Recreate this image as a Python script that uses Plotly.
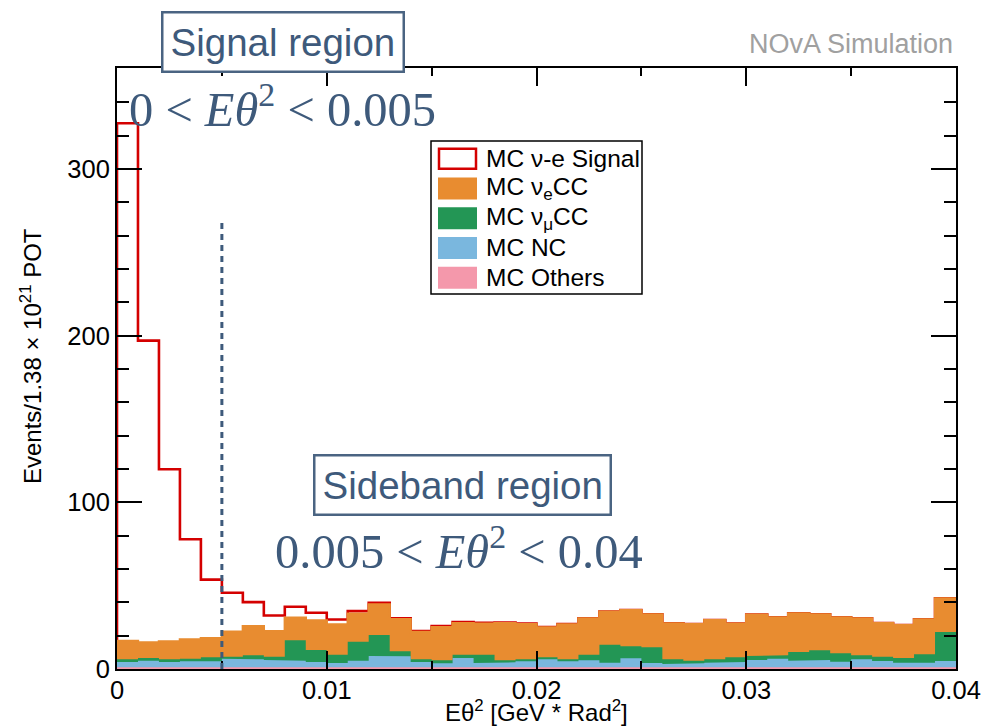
import numpy as np
import plotly.graph_objects as go

# Binning: 40 bins of E*theta^2 from 0 to 0.04 GeV*rad^2
bin_edges = np.linspace(0.0, 0.04, 41)

# Per-bin predicted event counts for each MC component (stacked bottom -> top)
others = [1.0, 1.0, 1.0, 1.0, 1.0, 1.0, 1.0, 1.0, 1.0, 1.0,
          1.0, 1.0, 1.0, 1.0, 1.0, 1.0, 1.0, 1.0, 1.0, 1.0,
          1.0, 1.0, 1.0, 1.0, 1.0, 1.0, 1.0, 1.0, 1.0, 1.0,
          1.0, 1.0, 1.0, 1.0, 1.0, 1.0, 1.0, 1.0, 1.0, 1.0]
nc = [3.2, 4.0, 3.2, 3.6, 3.6, 5.2, 4.8, 4.4, 4.0, 3.2,
      2.6, 4.0, 6.8, 6.6, 3.2, 2.4, 5.6, 2.6, 3.0, 3.6,
      4.8, 3.6, 4.2, 2.8, 5.4, 2.6, 2.0, 2.4, 2.8, 3.2,
      4.4, 5.2, 4.0, 4.4, 3.4, 4.8, 3.8, 2.8, 2.8, 3.8]
numu_cc = [1.6, 1.6, 1.6, 1.6, 2.4, 1.2, 2.4, 2.0, 12.2, 7.2,
           5.0, 11.4, 12.6, 3.0, 1.6, 1.8, 2.0, 5.0, 1.2, 1.2,
           1.2, 1.2, 3.4, 10.8, 7.2, 9.4, 2.8, 1.5, 2.0, 2.8,
           2.4, 2.0, 5.2, 5.8, 5.0, 2.4, 2.6, 2.8, 5.0, 17.4]
nue_cc = [11.0, 9.4, 10.8, 11.6, 11.4, 15.0, 17.5, 15.2, 13.5, 17.7,
          18.1, 16.7, 18.3, 19.2, 16.4, 19.9, 18.9, 18.5, 22.3, 21.1,
          17.9, 20.9, 21.7, 19.7, 21.7, 19.7, 21.5, 22.0, 23.5, 20.1,
          24.7, 22.7, 23.1, 21.5, 21.5, 22.1, 20.1, 19.7, 20.9, 20.1]
nu_e_signal = [310.6, 181.0, 103.2, 60.0, 35.2, 23.3, 14.4, 9.5, 6.6, 4.6,
               3.0, 1.6, 1.0, 0.6, 0.6, 0.6, 0.6, 0.6, 0.4, 0.4,
               0.3, 0.2, 0.1, 0.1, 0.1, 0.1, 0.1, 0.1, 0.1, 0.1,
               0.1, 0.1, 0.1, 0.1, 0.1, 0.1, 0.1, 0.1, 0.1, 0.1]

signal_cut = 0.005      # upper edge of the signal region
cut_line_top = 268      # height of the dashed cut marker

x_tick_vals = [0, 0.01, 0.02, 0.03, 0.04]
x_tick_text = ["0", "0.01", "0.02", "0.03", "0.04"]
y_tick_vals = [0, 100, 200, 300]

# Colours
C_ORANGE = "#e88c30"
C_GREEN = "#239655"
C_BLUE = "#7ab7de"
C_PINK = "#f498ab"
C_RED = "#d40000"
C_SLATE = "#3e5a7b"

W, H = 998, 726
ML, MR, MT, MB = 117, 42, 68, 57
PW, PH = W - ML - MR, H - MT - MB


def px(x):
    return (x - ML) / PW


def py(y):
    return (H - MB - y) / PH


def step(vals):
    """Histogram outline (x, y) for per-bin values, closed down to zero."""
    xs = np.repeat(bin_edges, 2)
    ys = np.concatenate([[0], np.repeat(np.asarray(vals, float), 2), [0]])
    return xs, ys


# Cumulative stack levels
lvl_others = np.array(others)
lvl_nc = lvl_others + np.array(nc)
lvl_numu = lvl_nc + np.array(numu_cc)
lvl_nue = lvl_numu + np.array(nue_cc)
lvl_total = lvl_nue + np.array(nu_e_signal)

fig = go.Figure()

# Signal outline first, so the background stack is painted over it
sx, sy = step(lvl_total)
fig.add_trace(go.Scatter(x=sx, y=sy, mode="lines",
                         line=dict(color=C_RED, width=2.6),
                         showlegend=False, hoverinfo="skip"))

# Background stack, drawn from the top level down
for lvl, col, lw in [(lvl_nue, C_ORANGE, 2.4),
                     (lvl_numu, C_GREEN, 0),
                     (lvl_nc, C_BLUE, 0),
                     (lvl_others, C_PINK, 0)]:
    bx, by = step(lvl)
    fig.add_trace(go.Scatter(x=bx, y=by, mode="lines", fill="tozeroy",
                             fillcolor=col, line=dict(color=col, width=lw),
                             showlegend=False, hoverinfo="skip"))

# Dashed cut marker
fig.add_shape(type="line", xref="x", yref="y", x0=signal_cut, x1=signal_cut,
              y0=0, y1=cut_line_top, layer="above",
              line=dict(color=C_SLATE, width=3, dash="6px,5px"))

axis_common = dict(showgrid=False, zeroline=False, showline=True,
                   linecolor="black", linewidth=2, mirror="ticks",
                   ticks="inside", tickcolor="black", tickwidth=1.5,
                   tickfont=dict(family="Liberation Sans", size=25.5, color="black"))

fig.update_layout(
    width=W, height=H, autosize=False,
    margin=dict(l=ML, r=MR, t=MT, b=MB, pad=0),
    paper_bgcolor="white", plot_bgcolor="white",
    xaxis=dict(range=[0, 0.04], tickvals=x_tick_vals, ticktext=x_tick_text,
               ticklen=18, ticklabelstandoff=-3,
               minor=dict(dtick=0.005, ticklen=8, ticks="inside",
                          tickcolor="black", tickwidth=1.5),
               **axis_common),
    yaxis=dict(range=[0, 360.5], tickvals=y_tick_vals, ticklen=25,
               minor=dict(dtick=20, ticklen=12, ticks="inside",
                          tickcolor="black", tickwidth=1.5),
               **axis_common),
)

annotations = []
# Axis titles
annotations.append(dict(text="Eθ<sup>2</sup> [GeV * Rad<sup>2</sup>]",
                        x=px(536), y=py(711), xref="paper", yref="paper",
                        xanchor="center", yanchor="middle", showarrow=False,
                        font=dict(family="Liberation Sans", size=24, color="black")))
annotations.append(dict(text="Events/1.38 × 10<sup>21</sup> POT",
                        x=px(31), y=py(356), xref="paper", yref="paper",
                        xanchor="center", yanchor="middle", showarrow=False,
                        textangle=-90,
                        font=dict(family="Liberation Sans", size=24, color="black")))
# Simulation label
annotations.append(dict(text="NOvA Simulation", x=px(955), y=py(44),
                        xref="paper", yref="paper", xanchor="right",
                        yanchor="middle", showarrow=False,
                        font=dict(family="Liberation Sans", size=27, color="#a0a0a0")))
# Region labels
for label, cx, cy in [("Signal region", 283, 41.5),
                      ("Sideband region", 462, 484.5)]:
    annotations.append(dict(text=label, x=px(cx), y=py(cy), xref="paper",
                            yref="paper", xanchor="center", yanchor="middle",
                            showarrow=False, bgcolor="white",
                            bordercolor="#4a6482", borderwidth=2.5, borderpad=7,
                            font=dict(family="Liberation Sans", size=38.5, color=C_SLATE)))
for label, cx, cy in [("0 &lt; <i>Eθ</i><sup>2</sup> &lt; 0.005", 282.5, 106),
                      ("0.005 &lt; <i>Eθ</i><sup>2</sup> &lt; 0.04", 458.5, 548)]:
    annotations.append(dict(text=label, x=px(cx), y=py(cy), xref="paper",
                            yref="paper", xanchor="center", yanchor="middle",
                            showarrow=False,
                            font=dict(family="Liberation Serif", size=48.5, color=C_SLATE)))

# Legend (drawn by hand for the large ROOT-style swatches)
shapes = [dict(type="rect", xref="paper", yref="paper",
               x0=px(431), x1=px(642), y0=py(294), y1=py(141),
               line=dict(color="black", width=1.5), fillcolor="white",
               layer="above")]
legend_rows = [("MC ν-e Signal", None),
               ("MC ν<sub>e</sub>CC", C_ORANGE),
               ("MC ν<sub>μ</sub>CC", C_GREEN),
               ("MC NC", C_BLUE),
               ("MC Others", C_PINK)]
row_y = [158.7, 188.5, 218.3, 248.0, 277.8]
for (label, col), ry in zip(legend_rows, row_y):
    if col is None:
        shapes.append(dict(type="rect", xref="paper", yref="paper",
                           x0=px(439), x1=px(476), y0=py(ry + 10), y1=py(ry - 10),
                           line=dict(color=C_RED, width=2.5), fillcolor="white",
                           layer="above"))
    else:
        shapes.append(dict(type="rect", xref="paper", yref="paper",
                           x0=px(438), x1=px(477), y0=py(ry + 11), y1=py(ry - 11),
                           line=dict(width=0), fillcolor=col, layer="above"))
    annotations.append(dict(text=label, x=px(484), y=py(ry), xref="paper",
                            yref="paper", xanchor="left", yanchor="middle",
                            showarrow=False,
                            font=dict(family="Liberation Sans", size=24.5, color="black")))

for s in shapes:
    fig.add_shape(**s)
fig.update_layout(annotations=annotations)

fig.write_html("out.html")
